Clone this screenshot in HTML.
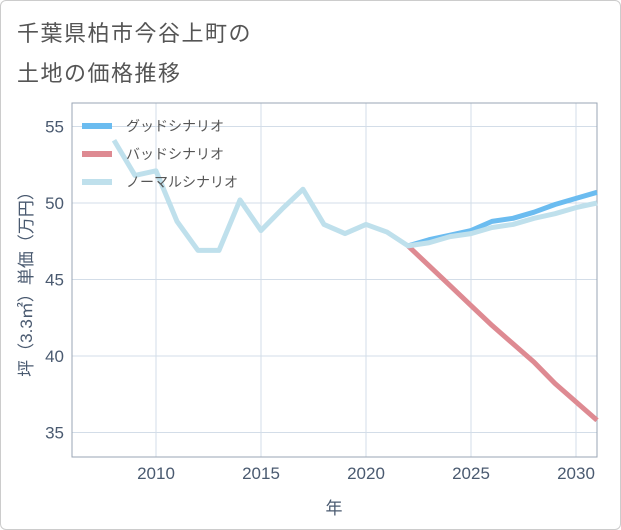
<!DOCTYPE html>
<html><head><meta charset="utf-8"><style>
body{margin:0;background:#fff;}
#card{position:absolute;left:0;top:0;width:619px;height:528px;border:1px solid #ccc;border-radius:6px;background:#fff;}
.t{position:absolute;left:17px;font:22px "Liberation Sans","Noto Sans CJK JP",sans-serif;color:#555;letter-spacing:1.5px;}
svg{position:absolute;left:0;top:0;}
text{font-family:"Liberation Sans","Noto Sans CJK JP",sans-serif;}
</style></head><body>
<div id="card"></div>
<div class="t" style="top:16px">千葉県柏市今谷上町の</div>
<div class="t" style="top:56px">土地の価格推移</div>
<svg id="s" width="621" height="530"></svg>
<script>
const years=[2008,2009,2010,2011,2012,2013,2014,2015,2016,2017,2018,2019,2020,2021,2022,2023,2024,2025,2026,2027,2028,2029,2030,2031];
const normal=[54.1,51.8,52.1,48.8,46.9,46.9,50.2,48.2,49.6,50.9,48.6,48.0,48.6,48.1,47.2,47.4,47.8,48.0,48.4,48.6,49.0,49.3,49.7,50.0];
const goodYears=[2022,2023,2024,2025,2026,2027,2028,2029,2030,2031];
const good=[47.2,47.6,47.9,48.2,48.8,49.0,49.4,49.9,50.3,50.7];
const bad=[47.2,45.9,44.6,43.3,42.0,40.8,39.6,38.2,37.0,35.8];
const xTicks=[2010,2015,2020,2025,2030];
const yTicks=[35,40,45,50,55];
const L=72,R=597,T=103,B=457;
const x=v=>L+(v-2006)*21;
const y=v=>203-(v-50)*15.3;
const s=document.getElementById('s');const NS='http://www.w3.org/2000/svg';
function el(n,a,p){const e=document.createElementNS(NS,n);for(const k in a)e.setAttribute(k,a[k]);(p||s).appendChild(e);return e;}
xTicks.forEach(v=>{const l=el('line',{x1:x(v),x2:x(v),y1:T,y2:B,stroke:'#d3dde8'});


const t=el('text',{x:x(v),y:B+22,'text-anchor':'middle','font-size':17,fill:'#4a5a70'});t.textContent=v;

});
yTicks.forEach(v=>{const l=el('line',{x1:L,x2:R,y1:y(v),y2:y(v),stroke:'#d3dde8'});


const t=el('text',{x:L-8,y:y(v)+6,'text-anchor':'end','font-size':17,fill:'#4a5a70'});t.textContent=v;

});
const fr=el('rect',{x:L,y:T,width:R-L,height:B-T,fill:'none',stroke:'#9aa6b4'});


function line(xs,vs,c,name){const p=el('polyline',{points:vs.map((v,i)=>x(xs[i])+','+y(v)).join(' '),fill:'none',stroke:c,'stroke-width':5,'stroke-linejoin':'round'});

}
line(goodYears,bad,'#de8a92','bad-scenario-line');
line(goodYears,good,'#6bbcf0','good-scenario-line');
line(years,normal,'#bfe0ec','normal-scenario-line');
const leg=[['グッドシナリオ','#6bbcf0'],['バッドシナリオ','#de8a92'],['ノーマルシナリオ','#bfe0ec']];
leg.forEach((d,i)=>{const yy=126+i*28;const g=el('g',{});


el('line',{x1:82,x2:112,y1:yy,y2:yy,stroke:d[1],'stroke-width':6},g);
const t=el('text',{x:126,y:yy+5,'font-size':14,fill:'#555'},g);t.textContent=d[0];});
const xt=el('text',{x:334,y:514,'text-anchor':'middle','font-size':17,fill:'#4a5a70'});xt.textContent='年';


const yt=el('text',{x:0,y:0,'text-anchor':'middle','font-size':17,fill:'#4a5a70',transform:'translate(32,280) rotate(-90)'});yt.textContent='坪（3.3㎡）単価（万円）';


</script>
</body></html>
